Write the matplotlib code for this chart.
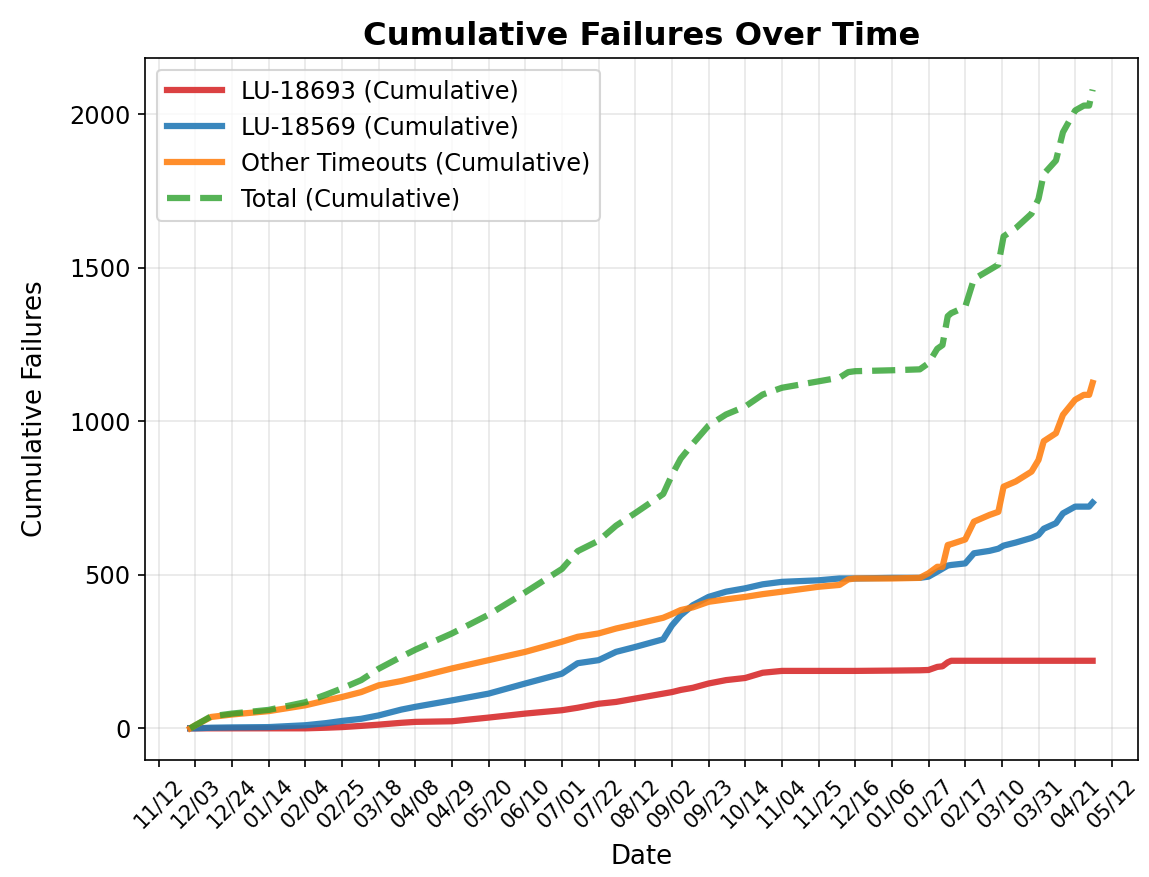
import numpy as np
import pandas as pd
import matplotlib
matplotlib.use("Agg")
import matplotlib.pyplot as plt
import matplotlib.dates as mdates

# cumulative failure counts read at selected dates
dates = [
    "2024-11-30", "2024-12-03", "2024-12-12", "2024-12-24", "2025-01-14",
    "2025-02-04", "2025-02-16", "2025-02-25", "2025-03-08", "2025-03-18",
    "2025-03-31", "2025-04-08", "2025-04-29", "2025-05-20", "2025-06-10",
    "2025-07-01", "2025-07-10", "2025-07-22", "2025-08-01", "2025-08-12",
    "2025-08-28", "2025-09-02", "2025-09-07", "2025-09-14", "2025-09-23",
    "2025-10-03", "2025-10-14", "2025-10-24", "2025-11-04", "2025-11-25",
    "2025-12-07", "2025-12-12", "2025-12-16", "2026-01-06", "2026-01-22",
    "2026-01-27", "2026-02-01", "2026-02-04", "2026-02-07", "2026-02-09",
    "2026-02-17", "2026-02-22", "2026-03-03", "2026-03-08", "2026-03-11",
    "2026-03-18", "2026-03-27", "2026-03-31", "2026-04-03", "2026-04-10",
    "2026-04-14", "2026-04-21", "2026-04-26", "2026-04-29", "2026-05-01",
]
lu_18693 = [
    0, 0, 0, 0, 0,
    0, 2, 4, 8, 12,
    18, 21, 23, 35, 48,
    59, 67, 80, 86, 97,
    113, 118, 125, 132, 146,
    157, 164, 181, 187, 187,
    187, 187, 187, 188, 189,
    190, 200, 202, 215, 220,
    220, 220, 220, 220, 220,
    220, 220, 220, 220, 220,
    220, 220, 220, 220, 220,
]
lu_18569 = [
    0, 0, 2, 3, 4,
    10, 17, 24, 31, 42,
    61, 70, 91, 113, 146,
    178, 212, 222, 249, 265,
    290, 335, 368, 401, 428,
    445, 456, 469, 477, 482,
    488, 488, 488, 490, 490,
    494, 510, 520, 530, 532,
    537, 570, 578, 585, 595,
    605, 620, 630, 650, 668,
    700, 722, 722, 722, 735,
]
other_timeouts = [
    0, 10, 37, 45, 56,
    75, 91, 102, 118, 140,
    154, 165, 195, 222, 249,
    282, 298, 309, 325, 339,
    360, 372, 385, 394, 412,
    420, 428, 437, 445, 461,
    467, 485, 488, 488, 490,
    505, 526, 526, 597, 600,
    615, 673, 695, 705, 787,
    804, 836, 874, 935, 961,
    1021, 1070, 1086, 1086, 1125,
]

x = pd.to_datetime(dates)
total = np.array(lu_18693) + np.array(lu_18569) + np.array(other_timeouts)

fig = plt.figure(figsize=(7.66, 5.847), dpi=150)
ax = fig.add_axes([0.1262, 0.1331, 0.864, 0.8011])

ax.plot(x, lu_18693, color="#d62728", lw=3, alpha=0.88, label="LU-18693 (Cumulative)")
ax.plot(x, lu_18569, color="#1f77b4", lw=3, alpha=0.88, label="LU-18569 (Cumulative)")
ax.plot(x, other_timeouts, color="#ff7f0e", lw=3, alpha=0.88, label="Other Timeouts (Cumulative)")
ax.plot(x, total, color="#2ca02c", lw=3, alpha=0.8, ls="--", label="Total (Cumulative)")

ticks = pd.date_range("2024-11-12", "2026-05-12", freq="21D")
ax.set_xticks(ticks)
ax.xaxis.set_major_formatter(mdates.DateFormatter("%m/%d"))
plt.setp(ax.get_xticklabels(), rotation=45, fontsize=10)
ax.tick_params(axis="y", labelsize=11.5)

ax.set_title("Cumulative Failures Over Time", fontsize=15.5, fontweight="bold")
ax.set_xlabel("Date", fontsize=12.5, labelpad=6)
ax.set_ylabel("Cumulative Failures", fontsize=12.5, labelpad=10)
ax.grid(True, alpha=0.3)
ax.legend(loc="upper left", fontsize=11.5, handlelength=2.3)

fig.savefig("out.png", dpi=150)
